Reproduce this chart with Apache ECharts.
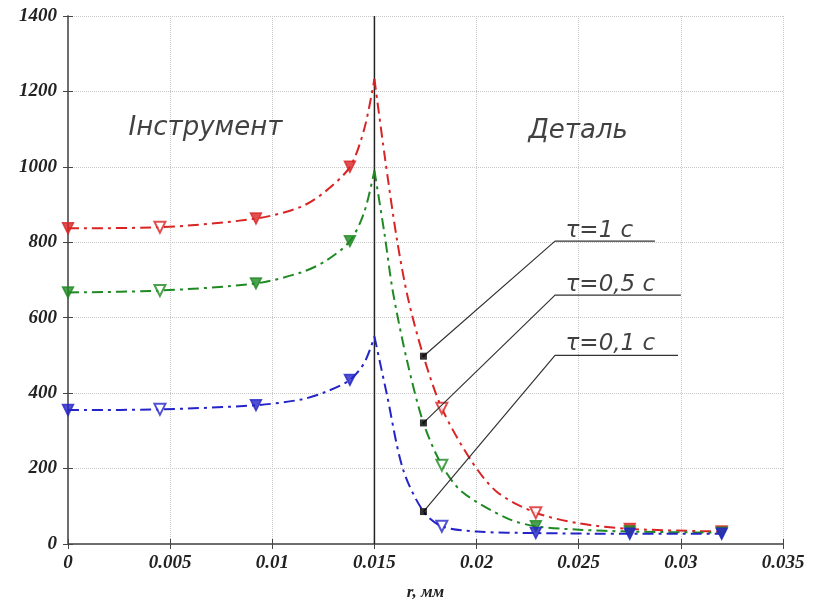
<!DOCTYPE html>
<html>
<head>
<meta charset="utf-8">
<script src="https://cdn.jsdelivr.net/npm/echarts@6/dist/echarts.min.js"></script>
<style>
  html, body { margin: 0; padding: 0; background: #fff; }
  #chart { width: 813px; height: 606px; }
</style>
</head>
<body>
<div id="chart"></div>
<script>
// curves are split at the contact boundary r = 0.015 so the peak stays sharp
const redLeft = [[0, 837], [0.0045, 840], [0.0092, 863], [0.0114, 894], [0.0126, 935], [0.0138, 1000], [0.0145, 1100], [0.015, 1233]];
const redRight = [[0.015, 1233], [0.0155, 1030], [0.0161, 808], [0.01665, 650], [0.0174, 498], [0.0183, 360], [0.0197, 224], [0.021, 138], [0.0229, 83], [0.025, 55], [0.0275, 40], [0.032, 33]];
const greenLeft = [[0, 667], [0.0045, 672], [0.0092, 691], [0.0114, 720], [0.0126, 750], [0.0138, 803], [0.0145, 880], [0.015, 990]];
const greenRight = [[0.015, 990], [0.0155, 820], [0.0159, 670], [0.0166, 485], [0.0174, 321], [0.0183, 209], [0.0193, 138], [0.0215, 68], [0.0229, 47], [0.025, 38], [0.0275, 33], [0.032, 30]];
const blueLeft = [[0, 355], [0.0045, 357], [0.0092, 368], [0.0114, 383], [0.0126, 403], [0.0138, 435], [0.0145, 480], [0.015, 550]];
const blueRight = [[0.015, 550], [0.0156, 399], [0.0164, 198], [0.0174, 86], [0.0183, 47], [0.02, 33], [0.0229, 29], [0.0275, 27], [0.032, 27]];

const markerX = [0, 0.0045, 0.0092, 0.0138, 0.0183, 0.0229, 0.0275, 0.032];
const redHollow = [0.0045, 0.0183, 0.0229];
const greenHollow = [0.0045, 0.0183];
const blueHollow = [0.0045, 0.0183];
const dotX = 0.0174;

// boundary between tool and part
const boundary = [[0.015, 0], [0.015, 1400]];

// leader lines: dot on curve -> corner -> end of shelf
const leader1 = [[0.0174, 498], [0.02384, 803], [0.02873, 803]];
const leader2 = [[0.0174, 321], [0.02384, 660], [0.03, 660]];
const leader3 = [[0.0174, 86], [0.02384, 500], [0.02986, 500]];
const tauLabels = ['τ=1 с', 'τ=0,5 с', 'τ=0,1 с'];
const tauPos = [[0.02433, 829], [0.02433, 687], [0.02433, 529]];
const zoneLabels = ['Інструмент', 'Деталь'];
const zonePos = [[0.00294, 1103], [0.02252, 1095]];

const RED = '#d92424', GREEN = '#1f8a23', BLUE = '#2424c8';
const dashDot = [11, 5, 3, 5];
const axisFont = { fontFamily: 'Liberation Serif', fontStyle: 'italic', fontWeight: 'bold', color: '#222' };
const noteFont = { fontFamily: 'DejaVu Sans', fontStyle: 'italic', color: '#111' };

function curve(data, color) {
  return {
    type: 'line', data: data, smooth: 0.3, showSymbol: false, silent: true,
    lineStyle: { color: color, width: 2, type: dashDot }, z: 3
  };
}

function markers(left, right, color, hollow) {
  const all = left.concat(right.slice(1));
  const pts = all.filter(p => markerX.includes(p[0])).map(p => ({
    value: p,
    symbol: hollow.includes(p[0]) ? 'emptyTriangle' : 'triangle'
  }));
  return {
    type: 'scatter', data: pts, symbolSize: 11, symbolRotate: 180, silent: true,
    itemStyle: { color: color, borderColor: color, borderWidth: 1.5 }, z: 4
  };
}

function leader(data) {
  return {
    type: 'line', data: data, showSymbol: false, silent: true,
    lineStyle: { color: '#333', width: 1.2 }, z: 5
  };
}

const dots = [redRight, greenRight, blueRight].map(d => d.find(p => p[0] === dotX));

const option = {
  animation: false,
  grid: { left: 68, right: 30, top: 16, bottom: 53 },
  xAxis: [{
    type: 'value', min: 0, max: 0.035, interval: 0.005,
    name: 'r, мм', nameLocation: 'middle', nameGap: 40,
    nameTextStyle: Object.assign({ fontSize: 17 }, axisFont),
    axisLine: { show: true, lineStyle: { color: '#666', width: 1.5 } },
    axisTick: { show: true, inside: true, length: 5, lineStyle: { color: '#444' } },
    axisLabel: Object.assign({ fontSize: 19, margin: 10, formatter: v => String(+v.toFixed(3)) }, axisFont),
    splitLine: { show: true, lineStyle: { color: '#c8c8c8', type: 'dotted', width: 1 } }
  }, {
    type: 'value', position: 'top', min: 0, max: 0.035, interval: 0.005,
    axisLine: { show: true, lineStyle: { color: '#666', width: 1.5 } },
    axisTick: { show: true, inside: true, length: 5, lineStyle: { color: '#444' } },
    axisLabel: { show: false }, splitLine: { show: false }
  }],
  yAxis: [{
    type: 'value', min: 0, max: 1400, interval: 200,
    axisLine: { show: true, lineStyle: { color: '#666', width: 1.5 } },
    axisTick: { show: true, inside: true, length: 5, lineStyle: { color: '#444' } },
    axisLabel: Object.assign({ fontSize: 19, margin: 11, formatter: v => String(v) }, axisFont),
    splitLine: { show: true, lineStyle: { color: '#c8c8c8', type: 'dotted', width: 1 } }
  }, {
    type: 'value', position: 'right', min: 0, max: 1400, interval: 200,
    axisLine: { show: true, lineStyle: { color: '#666', width: 1.5 } },
    axisTick: { show: true, inside: true, length: 5, lineStyle: { color: '#444' } },
    axisLabel: { show: false }, splitLine: { show: false }
  }],
  series: [
    {
      type: 'line', data: boundary, showSymbol: false, silent: true,
      lineStyle: { color: '#222', width: 1.5 }, z: 2
    },
    curve(redLeft, RED),
    curve(redRight, RED),
    curve(greenLeft, GREEN),
    curve(greenRight, GREEN),
    curve(blueLeft, BLUE),
    curve(blueRight, BLUE),
    markers(redLeft, redRight, RED, redHollow),
    markers(greenLeft, greenRight, GREEN, greenHollow),
    markers(blueLeft, blueRight, BLUE, blueHollow),
    leader(leader1),
    leader(leader2),
    leader(leader3),
    {
      type: 'scatter', data: dots, symbol: 'rect', symbolSize: 7, silent: true,
      itemStyle: { color: '#000' }, z: 6
    },
    {
      type: 'scatter', silent: true, symbolSize: 1, itemStyle: { color: 'rgba(0,0,0,0)' },
      data: tauPos.map((p, i) => ({ value: p, name: tauLabels[i] })),
      label: Object.assign({ show: true, position: 'right', distance: 0, fontSize: 23, formatter: '{b}' }, noteFont),
      z: 6
    },
    {
      type: 'scatter', silent: true, symbolSize: 1, itemStyle: { color: 'rgba(0,0,0,0)' },
      data: zonePos.map((p, i) => ({ value: p, name: zoneLabels[i] })),
      label: Object.assign({ show: true, position: 'right', distance: 0, fontSize: 26, formatter: '{b}' }, noteFont),
      z: 6
    }
  ]
};

const chart = echarts.init(document.getElementById('chart'));
chart.setOption(option);
</script>
</body>
</html>
